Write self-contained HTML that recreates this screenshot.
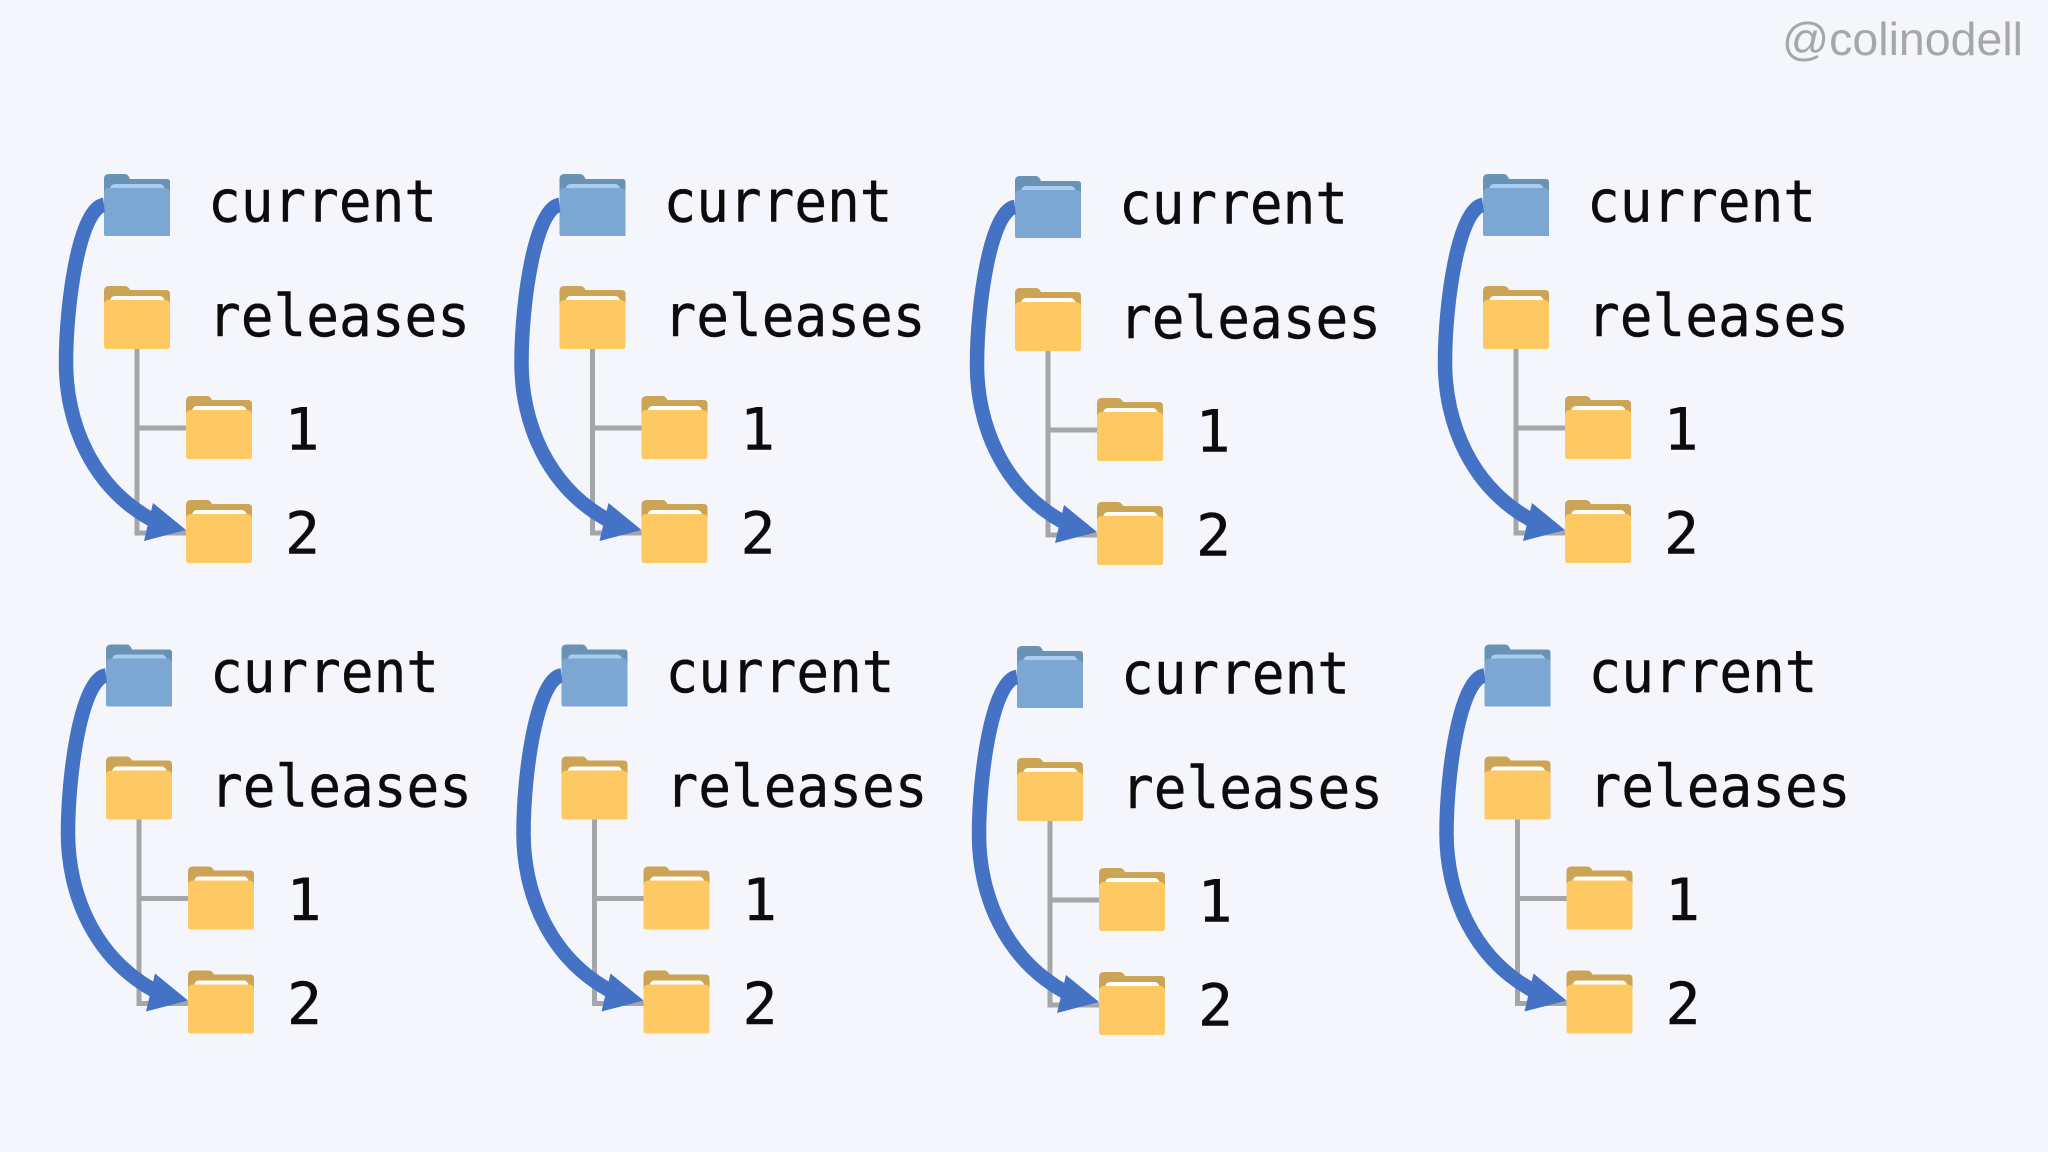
<!DOCTYPE html>
<html><head><meta charset="utf-8"><style>
html,body{margin:0;padding:0;background:#f5f6fc;width:2048px;height:1152px;overflow:hidden}
svg{display:block}
text.m{font-family:"DejaVu Sans Mono","Liberation Mono",monospace;font-size:58px;fill:#0c0c0c;stroke:#0c0c0c;stroke-width:.4px}
text.w{font-family:"Liberation Sans",sans-serif;font-size:46px;fill:#a6a7ab}
</style></head><body>
<svg width="2048" height="1152" viewBox="0 0 2048 1152" xmlns="http://www.w3.org/2000/svg">
<defs>
<g id="fy">
<path d="M0,5 Q0,0 5,0 H21 Q24,0 26,4 H62 Q66,4 66,8 V30 H0Z" fill="#cba455"/>
<path d="M6,15 Q7,10 11,10 H56 Q59,10 61,15 V20 H6Z" fill="#ffffff"/>
<path d="M0,19 Q0,14 5,14 H61 Q66,14 66,19 V60 Q66,63 63,63 H3 Q0,63 0,60Z" fill="#fec862"/>
</g>
<g id="fb">
<path d="M0,5 Q0,0 5,0 H21 Q24,0 26,5 H63 Q66,5 66,8 V30 H0Z" fill="#6a92b4"/>
<path d="M6,15 Q7,10 11,10 H56 Q59,10 61,15 V20 H6Z" fill="#a8cdee"/>
<path d="M0,19 Q0,14 5,14 H61 Q66,14 66,19 V62 H2 Q0,62 0,60Z" fill="#7ba7d2"/>
</g>
<g id="tree">
<path d="M137,349 V533 H186 M137,428 H186" fill="none" stroke="#a5a6a9" stroke-width="5"/>
<use href="#fb" x="104" y="174"/>
<use href="#fy" x="104" y="286"/>
<use href="#fy" x="186" y="396"/>
<use href="#fy" x="186" y="500"/>
<path d="M104,205 C80,208 66,300 66,363 C66,420 90,490 160,524" fill="none" stroke="#4472c4" stroke-width="14.5"/>
<path d="M153,503 L186,530 L144,541Z" fill="#4472c4"/>
</g>
</defs>
<text class="w" x="1782" y="55" textLength="241" lengthAdjust="spacingAndGlyphs">@colinodell</text>

<g transform="translate(0,0)"><use href="#tree"/>
<text class="m" x="208" y="221.5" textLength="229" lengthAdjust="spacingAndGlyphs">current</text>
<text class="m" x="208" y="336" textLength="262" lengthAdjust="spacingAndGlyphs">releases</text>
<text class="m" x="284.5" y="449.5" textLength="35" lengthAdjust="spacingAndGlyphs">1</text><text class="m" x="285" y="553.5" textLength="35" lengthAdjust="spacingAndGlyphs">2</text></g>

<g transform="translate(455.5,0)"><use href="#tree"/>
<text class="m" x="208" y="221.5" textLength="229" lengthAdjust="spacingAndGlyphs">current</text>
<text class="m" x="208" y="336" textLength="262" lengthAdjust="spacingAndGlyphs">releases</text>
<text class="m" x="284.5" y="449.5" textLength="35" lengthAdjust="spacingAndGlyphs">1</text><text class="m" x="285" y="553.5" textLength="35" lengthAdjust="spacingAndGlyphs">2</text></g>

<g transform="translate(911,2)"><use href="#tree"/>
<text class="m" x="208" y="221.5" textLength="229" lengthAdjust="spacingAndGlyphs">current</text>
<text class="m" x="208" y="336" textLength="262" lengthAdjust="spacingAndGlyphs">releases</text>
<text class="m" x="284.5" y="449.5" textLength="35" lengthAdjust="spacingAndGlyphs">1</text><text class="m" x="285" y="553.5" textLength="35" lengthAdjust="spacingAndGlyphs">2</text></g>

<g transform="translate(1379,0)"><use href="#tree"/>
<text class="m" x="208" y="221.5" textLength="229" lengthAdjust="spacingAndGlyphs">current</text>
<text class="m" x="208" y="336" textLength="262" lengthAdjust="spacingAndGlyphs">releases</text>
<text class="m" x="284.5" y="449.5" textLength="35" lengthAdjust="spacingAndGlyphs">1</text><text class="m" x="285" y="553.5" textLength="35" lengthAdjust="spacingAndGlyphs">2</text></g>

<g transform="translate(2,470.5)"><use href="#tree"/>
<text class="m" x="208" y="221.5" textLength="229" lengthAdjust="spacingAndGlyphs">current</text>
<text class="m" x="208" y="336" textLength="262" lengthAdjust="spacingAndGlyphs">releases</text>
<text class="m" x="284.5" y="449.5" textLength="35" lengthAdjust="spacingAndGlyphs">1</text><text class="m" x="285" y="553.5" textLength="35" lengthAdjust="spacingAndGlyphs">2</text></g>

<g transform="translate(457.5,470.5)"><use href="#tree"/>
<text class="m" x="208" y="221.5" textLength="229" lengthAdjust="spacingAndGlyphs">current</text>
<text class="m" x="208" y="336" textLength="262" lengthAdjust="spacingAndGlyphs">releases</text>
<text class="m" x="284.5" y="449.5" textLength="35" lengthAdjust="spacingAndGlyphs">1</text><text class="m" x="285" y="553.5" textLength="35" lengthAdjust="spacingAndGlyphs">2</text></g>

<g transform="translate(913,472)"><use href="#tree"/>
<text class="m" x="208" y="221.5" textLength="229" lengthAdjust="spacingAndGlyphs">current</text>
<text class="m" x="208" y="336" textLength="262" lengthAdjust="spacingAndGlyphs">releases</text>
<text class="m" x="284.5" y="449.5" textLength="35" lengthAdjust="spacingAndGlyphs">1</text><text class="m" x="285" y="553.5" textLength="35" lengthAdjust="spacingAndGlyphs">2</text></g>

<g transform="translate(1380.5,470.5)"><use href="#tree"/>
<text class="m" x="208" y="221.5" textLength="229" lengthAdjust="spacingAndGlyphs">current</text>
<text class="m" x="208" y="336" textLength="262" lengthAdjust="spacingAndGlyphs">releases</text>
<text class="m" x="284.5" y="449.5" textLength="35" lengthAdjust="spacingAndGlyphs">1</text><text class="m" x="285" y="553.5" textLength="35" lengthAdjust="spacingAndGlyphs">2</text></g>
</svg>
</body></html>
